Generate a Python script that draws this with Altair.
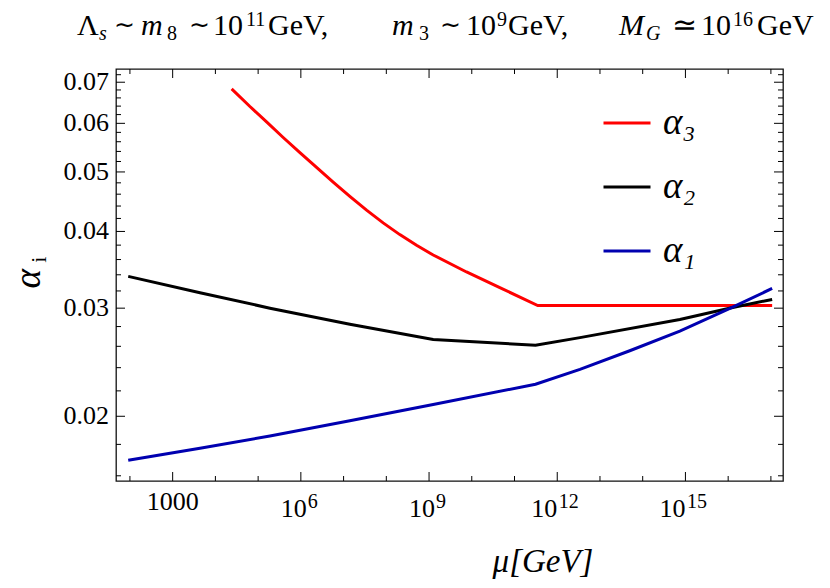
import altair as alt
import pandas as pd

SERIF = "Liberation Serif"

# ---------------- data ----------------
series_names = ["α₃", "α₂", "α₁"]
series_colors = ["#ff0000", "#000000", "#0000b0"]

mu_red = [2.4e4, 6.43e4, 1.6e5, 3.86e5, 9.5e5, 2.33e6, 5.7e6, 1.4e7, 3.45e7,
          8.43e7, 2.07e8, 5.1e8, 1.25e9, 7.53e9, 4.53e10, 3.5e11, 1.07e17]
alpha_red = [0.06829, 0.06391, 0.06027, 0.05689, 0.05376, 0.05085, 0.04814, 0.04563,
             0.04333, 0.04131, 0.03953, 0.03797, 0.03662, 0.03436, 0.03240, 0.0303, 0.0303]

mu_black = [91.2, 4.36e3, 1.89e5, 1.4e7, 1.25e9, 3.1e11, 3.4e12, 7.4e14, 1.2e16, 1.07e17]
alpha_black = [0.0338, 0.03179, 0.03000, 0.02825, 0.02667, 0.0261, 0.02686, 0.02876,
               0.03005, 0.0310]

mu_blue = [91.2, 4.36e3, 1.89e5, 1.4e7, 1.25e9, 3.1e11, 3.4e12, 4.98e13, 7.4e14,
           1.2e16, 1.07e17]
alpha_blue = [0.01696, 0.01774, 0.01857, 0.01967, 0.02091, 0.02255, 0.02385, 0.02557,
              0.02753, 0.03005, 0.0323]

x_domain = [47.2, 1.92e17]
y_domain = [0.01569, 0.07356]

x_major_ticks = [1e3, 1e6, 1e9, 1e12, 1e15]
x_minor_ticks = [1e2, 1e4, 1e5, 1e7, 1e8, 1e10, 1e11, 1e13, 1e14, 1e16, 1e17]
y_major_ticks = [0.02, 0.03, 0.04, 0.05, 0.06, 0.07]
y_major_text = ["0.02", "0.03", "0.04", "0.05", "0.06", "0.07"]
y_minor_ticks = [0.016, 0.018, 0.022, 0.024, 0.026, 0.028, 0.032, 0.034, 0.036, 0.038,
                 0.042, 0.044, 0.046, 0.048, 0.052, 0.054, 0.056, 0.058, 0.062, 0.064,
                 0.066, 0.068, 0.072]

x_plain_vals = [1e3]
x_plain_text = ["1000"]
x_pow1_vals = [1e6, 1e9]
x_pow1_exp = ["6", "9"]
x_pow2_vals = [1e12, 1e15]
x_pow2_exp = ["12", "15"]

# ---------------- layout ----------------
W, H = 667, 412
PAD = {"left": 108, "top": 61, "right": 39, "bottom": 99}
OX, OY = 116, 69.3  # page position of the plot origin

xs = alt.Scale(type="log", domain=x_domain, nice=False)
ys = alt.Scale(type="log", domain=y_domain, nice=False)

rows = []
for name, mus, als in [(series_names[0], mu_red, alpha_red),
                       (series_names[1], mu_black, alpha_black),
                       (series_names[2], mu_blue, alpha_blue)]:
    for m, a in zip(mus, als):
        rows.append({"series": name, "mu": m, "alpha": a})
df = pd.DataFrame(rows)

lines = alt.Chart(df).mark_line(strokeWidth=3, clip=True).encode(
    x=alt.X("mu:Q", scale=xs, axis=None),
    y=alt.Y("alpha:Q", scale=ys, axis=None),
    color=alt.Color("series:N",
                    scale=alt.Scale(domain=series_names, range=series_colors),
                    legend=alt.Legend(orient="none", legendX=486, legendY=29, title=None,
                                      symbolType="stroke", symbolSize=2209,
                                      symbolStrokeWidth=3, labelFont=SERIF,
                                      labelFontSize=37, labelFontStyle="italic",
                                      labelColor="black", labelOffset=11,
                                      rowPadding=21, padding=0, labelLimit=300)),
)


def xticks(vals, y0, y1):
    return alt.Chart(pd.DataFrame({"v": vals})).mark_rule(color="black", strokeWidth=1).encode(
        x=alt.X("v:Q", scale=xs, axis=None), y=alt.value(y0), y2=alt.value(y1))


def yticks(vals, x0, x1):
    return alt.Chart(pd.DataFrame({"v": vals})).mark_rule(color="black", strokeWidth=1).encode(
        y=alt.Y("v:Q", scale=ys, axis=None), x=alt.value(x0), x2=alt.value(x1))


tick_layers = [
    xticks(x_major_ticks, H, H - 9), xticks(x_minor_ticks, H, H - 5),
    xticks(x_major_ticks, 0, 9), xticks(x_minor_ticks, 0, 5),
    yticks(y_major_ticks, 0, 9), yticks(y_minor_ticks, 0, 5),
    yticks(y_major_ticks, W, W - 9), yticks(y_minor_ticks, W, W - 5),
]


def xlabel(vals, texts, y, size, align, dx):
    return alt.Chart(pd.DataFrame({"v": vals, "t": texts})).mark_text(
        font=SERIF, fontSize=size, align=align, baseline="alphabetic", dx=dx, color="black"
    ).encode(x=alt.X("v:Q", scale=xs, axis=None), y=alt.value(y), text="t:N")


label_layers = [
    xlabel(x_plain_vals, x_plain_text, 440.7, 26, "center", 0),
    xlabel(x_pow1_vals, ["10"] * len(x_pow1_vals), 447.7, 26, "right", 6),
    xlabel(x_pow1_vals, x_pow1_exp, 438.7, 20, "left", 7),
    xlabel(x_pow2_vals, ["10"] * len(x_pow2_vals), 447.7, 26, "right", 0),
    xlabel(x_pow2_vals, x_pow2_exp, 438.7, 20, "left", 1.5),
    alt.Chart(pd.DataFrame({"v": y_major_ticks, "t": y_major_text})).mark_text(
        font=SERIF, fontSize=26, align="right", baseline="middle", color="black"
    ).encode(y=alt.Y("v:Q", scale=ys, axis=None), x=alt.value(-7), text="t:N"),
]


def seg(text, px, py, size, italic=False, angle=0, align="left"):
    return alt.Chart(pd.DataFrame({"t": [text]})).mark_text(
        font=SERIF, fontSize=size, align=align, baseline="alphabetic", angle=angle,
        fontStyle="italic" if italic else "normal", color="black"
    ).encode(x=alt.value(px - OX), y=alt.value(py - OY), text="t:N")


# ---------------- title built from pieces ----------------
MAIN, SMALL, REL = 30, 20, 25
BASE, SUB, SUP, RELB = 35, 40, 26.5, 33

title_layers = [
    seg("Λ", 77, BASE, MAIN), seg("s", 99, SUB, SMALL, True),
    seg("∼", 124, RELB, REL, align="center"),
    seg("m", 141, BASE, MAIN, True), seg("8", 167, SUB, SMALL),
    seg("∼", 199, RELB, REL, align="center"),
    seg("10", 213, BASE, MAIN), seg("11", 246, SUP, SMALL), seg("GeV,", 268, BASE, MAIN),
    seg("m", 392, BASE, MAIN, True), seg("3", 419, SUB, SMALL),
    seg("∼", 450, RELB, REL, align="center"),
    seg("10", 466, BASE, MAIN), seg("9", 497, SUP, SMALL), seg("GeV,", 508, BASE, MAIN),
    seg("M", 619, BASE, MAIN, True), seg("G", 646, SUB, SMALL, True),
    seg("≃", 684, BASE, MAIN, align="center"),
    seg("10", 701, BASE, MAIN), seg("16", 733, SUP, SMALL), seg("GeV", 757, BASE, MAIN),
]

# axis titles
axis_title_layers = [
    seg("μ[GeV]", 543, 572, 33, True, align="center"),
    seg("α", 40, 279, 37, True, angle=270, align="center"),
    seg("i", 46, 260, 22, False, angle=270, align="center"),
]

chart = alt.layer(lines, *tick_layers, *label_layers, *title_layers,
                  *axis_title_layers).properties(
    width=W, height=H, autosize=alt.AutoSizeParams(type="none"), padding=PAD
).configure_view(stroke="#111111", strokeWidth=1.3)

chart.save("out.html", embed_options={"renderer": "svg", "actions": False})
